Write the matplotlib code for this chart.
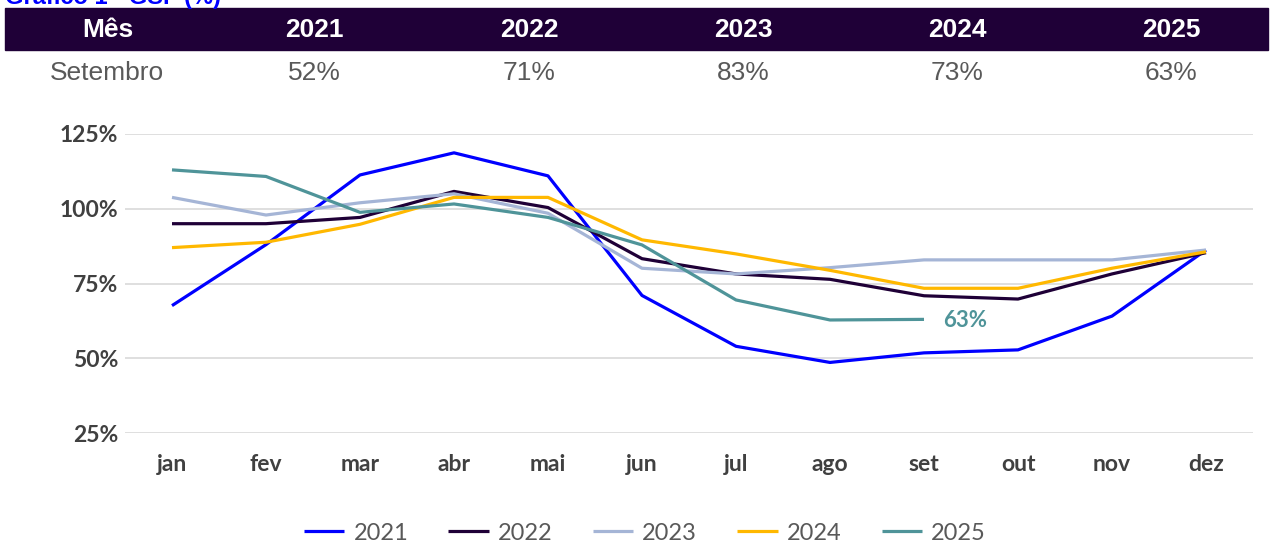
import matplotlib.pyplot as plt
from matplotlib.patches import Rectangle
from matplotlib.ticker import FuncFormatter

months = ["jan", "fev", "mar", "abr", "mai", "jun", "jul", "ago", "set", "out", "nov", "dez"]

gsf_2021 = [67.6, 88.0, 111.3, 118.7, 111.0, 71.0, 54.0, 48.6, 51.8, 52.8, 64.1, 86.2]
gsf_2022 = [95.0, 95.0, 97.1, 105.8, 100.4, 83.3, 78.2, 76.4, 70.9, 69.8, 78.2, 85.3]
gsf_2023 = [103.8, 97.9, 102.0, 105.0, 98.5, 80.1, 78.2, 80.3, 82.9, 82.9, 82.9, 86.2]
gsf_2024 = [87.0, 88.8, 94.8, 103.8, 103.8, 89.6, 84.9, 79.4, 73.4, 73.4, 80.1, 85.6]
gsf_2025 = [113.0, 110.8, 98.8, 101.6, 97.1, 87.9, 69.5, 62.8, 63.0]

table_years = ["2021", "2022", "2023", "2024", "2025"]
table_sep = ["52%", "71%", "83%", "73%", "63%"]

series = [
    ("2021", gsf_2021, "#0000FF"),
    ("2022", gsf_2022, "#1F0037"),
    ("2023", gsf_2023, "#A5B5D6"),
    ("2024", gsf_2024, "#FFB800"),
    ("2025", gsf_2025, "#4F9499"),
]

W, H = 1275, 545
fig = plt.figure(figsize=(W / 100, H / 100), dpi=100)

# title is cut off at the top edge in the original as well
fig.text(5 / W, 1 - 4 / H, "Gráfico 1 - GSF (%)", color="#0000FF", fontsize=17,
         fontweight="bold", family="Liberation Sans", va="baseline", ha="left")

# header table
fig.patches.append(Rectangle((5 / W, 1 - 50 / H), (1268 - 5) / W, 42 / H,
                             transform=fig.transFigure, color="#1F0037", zorder=0))
col_x = [108, 314, 529, 743, 957, 1171]
fig.text(col_x[0] / W, 1 - 30 / H, "Mês", color="white", fontsize=19, fontweight="bold",
         family="Liberation Sans", ha="center", va="center")
fig.text(107 / W, 1 - 73 / H, "Setembro", color="#595959", fontsize=19,
         family="Liberation Sans", ha="center", va="center")
for x, yr, v in zip(col_x[1:], table_years, table_sep):
    fig.text(x / W, 1 - 30 / H, yr, color="white", fontsize=19, fontweight="bold",
             family="Liberation Sans", ha="center", va="center")
    fig.text(x / W, 1 - 73 / H, v, color="#595959", fontsize=19,
             family="Liberation Sans", ha="center", va="center")

# line chart
ax = fig.add_axes([125 / W, 1 - 433 / H, (1253 - 125) / W, (433 - 134) / H])
for name, vals, col in series:
    ax.plot(range(len(vals)), vals, color=col, lw=2.3, label=name, solid_capstyle="butt")

ax.text(8.2, 62.5, "63%", color="#4F9499", fontsize=16, fontweight="bold",
        family="Lato", ha="left", va="center")

ax.set_xlim(-0.5, 11.5)
ax.set_ylim(25, 125)
ax.set_yticks([25, 50, 75, 100, 125])
ax.yaxis.set_major_formatter(FuncFormatter(lambda v, p: f"{v:.0f}%"))
ax.set_xticks(range(12))
ax.set_xticklabels(months)
for lab in ax.get_xticklabels() + ax.get_yticklabels():
    lab.set_family("Lato")
    lab.set_fontweight("bold")
    lab.set_fontsize(16.5)
    lab.set_color("#404040")
ax.tick_params(axis="both", length=0)
ax.tick_params(axis="y", pad=5)
ax.tick_params(axis="x", pad=15)
ax.grid(axis="y", color="#D9D9D9", lw=1.2)
ax.set_axisbelow(True)
for s in ax.spines.values():
    s.set_visible(False)

leg = fig.legend(loc="center", bbox_to_anchor=(645 / W, 1 - 533 / H), ncol=5, frameon=False,
                 prop={"family": "Lato", "size": 17}, handlelength=1.7, handletextpad=0.4,
                 columnspacing=1.7)
for t in leg.get_texts():
    t.set_color("#595959")

fig.savefig("out.png", dpi=100)
